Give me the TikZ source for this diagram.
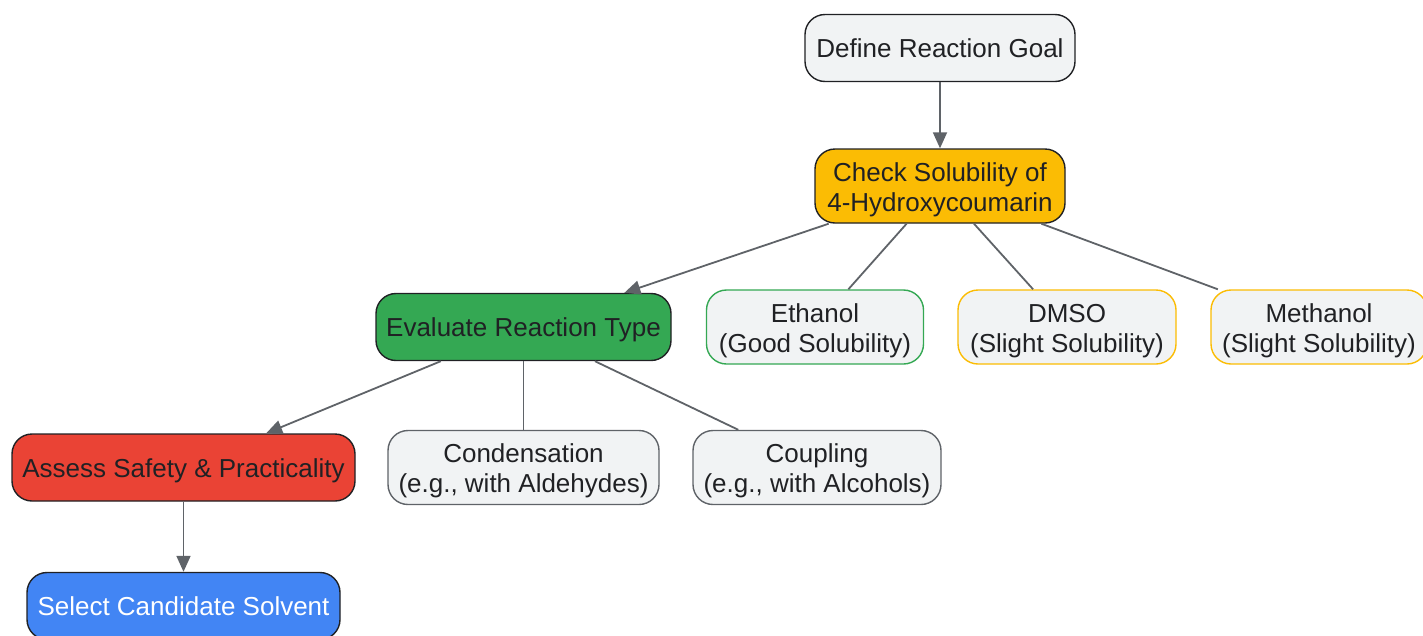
\documentclass[tikz,border=0pt]{standalone}
\usepackage{fontspec}
\setmainfont{Liberation Sans}
\usetikzlibrary{arrows.meta}
\definecolor{lightbg}{HTML}{F1F3F4}
\definecolor{darkline}{HTML}{202124}
\definecolor{edgecol}{HTML}{5F6368}
\definecolor{gyellow}{HTML}{FBBC04}
\definecolor{ggreen}{HTML}{34A853}
\definecolor{gred}{HTML}{EA4335}
\definecolor{gblue}{HTML}{4285F4}
\definecolor{txt}{HTML}{202124}
\tikzset{
  box/.style={draw=darkline, line width=1.4pt, rounded corners=20pt, align=center, inner sep=0pt,
    font=\fontsize{26}{30}\selectfont, text=txt, minimum height=67pt, text height=19pt, text depth=0pt},
  twoline/.style={box, minimum height=74pt, text height=50.6pt, text depth=0pt},
  edge/.style={draw=edgecol, line width=1.8pt},
  arr/.style={edge, -{Triangle[length=16pt,width=14pt]}},
}
\begin{document}
\begin{tikzpicture}[x=1pt,y=-1pt]
\useasboundingbox (0,0) rectangle (1423,635);
\clip (0,0) rectangle (1423,635);
\node[box, fill=lightbg, minimum width=270pt] (goal) at (940,48) {Define Reaction Goal};
\node[twoline, fill=gyellow, minimum width=250pt] (check) at (940,186) {Check Solubility of\\4-Hydroxycoumarin};
\node[box, fill=ggreen, minimum width=295pt] (eval) at (523.5,327) {Evaluate Reaction Type};
\node[twoline, fill=lightbg, draw=ggreen, minimum width=217pt] (eth) at (815,327) {Ethanol\\(Good Solubility)};
\node[twoline, fill=lightbg, draw=gyellow, minimum width=218pt] (dmso) at (1067,327) {DMSO\\(Slight Solubility)};
\node[twoline, fill=lightbg, draw=gyellow, minimum width=216pt] (meth) at (1319,327) {Methanol\\(Slight Solubility)};
\node[box, fill=gred, minimum width=343pt] (assess) at (183.5,467.5) {Assess Safety \& Practicality};
\node[twoline, fill=lightbg, draw=edgecol, minimum width=271pt] (cond) at (523.5,467.5) {Condensation\\(e.g., with Aldehydes)};
\node[twoline, fill=lightbg, draw=edgecol, minimum width=248pt] (coup) at (817,467.5) {Coupling\\(e.g., with Alcohols)};
\node[box, fill=gblue, text=white, minimum width=313pt] (select) at (183.5,606) {Select Candidate Solvent};
\draw[arr] (goal) -- (check);
\draw[arr] (check) -- (eval);
\draw[edge] (check) -- (eth);
\draw[edge] (check) -- (dmso);
\draw[edge] (check) -- (meth);
\draw[arr] (eval) -- (assess);
\draw[edge] (eval) -- (cond);
\draw[edge] (eval) -- (coup);
\draw[arr] (assess) -- (select);
\end{tikzpicture}
\end{document}
